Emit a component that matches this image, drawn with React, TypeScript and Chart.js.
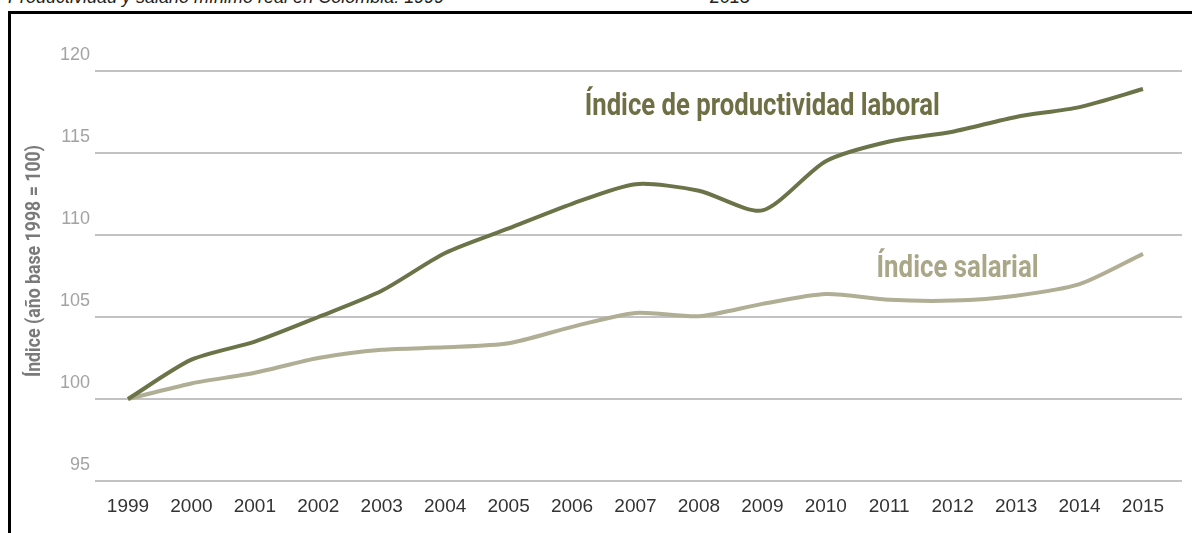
import React, { useEffect, useRef } from 'react';
import { Chart, registerables } from 'chart.js';

Chart.register(...registerables);

const years = [1999, 2000, 2001, 2002, 2003, 2004, 2005, 2006, 2007, 2008, 2009, 2010, 2011, 2012, 2013, 2014, 2015];
const productivity = [100, 102.4, 103.5, 105.0, 106.6, 108.9, 110.4, 111.9, 113.1, 112.7, 111.5, 114.5, 115.7, 116.3, 117.2, 117.8, 118.9];
const salary = [100, 100.95, 101.6, 102.5, 103.0, 103.15, 103.4, 104.4, 105.25, 105.05, 105.8, 106.4, 106.05, 106.0, 106.3, 107.0, 108.85];
const yTicks = [95, 100, 105, 110, 115, 120];
const seriesNames = ['Índice de productividad laboral', 'Índice salarial'];
const yTitle = 'Índice (año base 1998 = 100)';
const headTitle = 'Productividad y salario mínimo real en Colombia: 1999';
const headTitleEnd = '2015';

const PROD_COLOR = '#6b7348';
const SAL_COLOR = '#b0ae94';

const labelsPlugin = {
  id: 'seriesLabels',
  afterDatasetsDraw(chart: any) {
    const { ctx, scales } = chart;
    const xs = scales.x;
    const ys = scales.y;
    const items = [
      { text: seriesNames[0], xv: 2006.2, yv: 117.3, width: 355, color: '#6e6f45' },
      { text: seriesNames[1], xv: 2010.8, yv: 107.45, width: 162, color: '#a9a788' },
    ];
    ctx.save();
    ctx.font = 'bold 32px Roboto, "DejaVu Sans", sans-serif';
    ctx.textBaseline = 'alphabetic';
    ctx.textAlign = 'left';
    for (const it of items) {
      const w = ctx.measureText(it.text).width;
      const px = xs.getPixelForValue(it.xv);
      const py = ys.getPixelForValue(it.yv);
      ctx.save();
      ctx.translate(px, py);
      ctx.scale(it.width / w, 1);
      ctx.fillStyle = it.color;
      ctx.fillText(it.text, 0, 0);
      ctx.restore();
    }
    // y axis title
    ctx.save();
    ctx.font = 'bold 20px Roboto, "DejaVu Sans", sans-serif';
    const tw = ctx.measureText(yTitle).width;
    ctx.translate(35, 261);
    ctx.rotate(-Math.PI / 2);
    ctx.scale(232 / tw, 1);
    ctx.textAlign = 'center';
    ctx.textBaseline = 'middle';
    ctx.fillStyle = '#7a7a7a';
    ctx.fillText(yTitle, 0, 0);
    ctx.restore();
    ctx.restore();
  },
};

export default function App() {
  const canvasRef = useRef<HTMLCanvasElement | null>(null);

  useEffect(() => {
    const canvas = canvasRef.current;
    if (!canvas) return;
    const chart = new Chart(canvas, {
      type: 'line',
      data: {
        datasets: [
          {
            label: seriesNames[0],
            data: years.map((yr, i) => ({ x: yr, y: productivity[i] })),
            borderColor: PROD_COLOR,
            borderWidth: 4,
            pointRadius: 0,
            tension: 0.25,
            fill: false,
          },
          {
            label: seriesNames[1],
            data: years.map((yr, i) => ({ x: yr, y: salary[i] })),
            borderColor: SAL_COLOR,
            borderWidth: 4,
            pointRadius: 0,
            tension: 0.25,
            fill: false,
          },
        ],
      },
      options: {
        responsive: false,
        animation: false,
        devicePixelRatio: 1,
        layout: { padding: { left: 0, right: 10, top: 71, bottom: 0 } },
        plugins: {
          legend: { display: false },
          tooltip: { enabled: false },
        },
        scales: {
          x: {
            type: 'linear',
            min: 1998.48,
            max: 2015.615,
            afterBuildTicks: (s: any) => {
              s.ticks = years.map((v) => ({ value: v }));
            },
            afterFit: (s: any) => {
              s.height = 52;
            },
            grid: { display: false, drawTicks: false },
            border: { display: false },
            ticks: {
              color: '#333333',
              font: { family: '"Liberation Sans", Arial, sans-serif', size: 19 },
              padding: 14,
              maxRotation: 0,
              autoSkip: false,
              callback: (v: any) => String(v),
            },
          },
          y: {
            min: 95,
            max: 120,
            afterBuildTicks: (s: any) => {
              s.ticks = yTicks.map((v) => ({ value: v }));
            },
            afterFit: (s: any) => {
              s.width = 95;
            },
            grid: { color: '#c2c2c2', lineWidth: 2, drawTicks: false },
            border: { display: false },
            ticks: {
              color: '#a3a3a3',
              font: { family: '"Liberation Sans", Arial, sans-serif', size: 18 },
              padding: 5,
              labelOffset: -16,
              callback: (v: any) => String(v),
            },
          },
        },
      },
      plugins: [labelsPlugin],
    });
    return () => chart.destroy();
  }, []);

  return (
    <div
      style={{
        position: 'absolute',
        left: 0,
        top: 0,
        width: 1192,
        height: 533,
        overflow: 'hidden',
        background: '#ffffff',
      }}
    >
      <div
        style={{
          position: 'absolute',
          left: 8,
          top: -12,
          fontFamily: '"Liberation Sans", Arial, sans-serif',
          fontStyle: 'italic',
          fontSize: 18,
          lineHeight: '18px',
          color: '#222',
          whiteSpace: 'nowrap',
        }}
      >
        {headTitle}
      </div>
      <div
        style={{
          position: 'absolute',
          left: 710,
          top: -12,
          fontFamily: '"Liberation Sans", Arial, sans-serif',
          fontStyle: 'italic',
          fontSize: 18,
          lineHeight: '18px',
          color: '#222',
          whiteSpace: 'nowrap',
        }}
      >
        {headTitleEnd}
      </div>
      <div
        style={{
          position: 'absolute',
          left: 8,
          top: 11,
          width: 1200,
          height: 540,
          borderLeft: '3px solid #000',
          borderTop: '3px solid #000',
        }}
      />
      <canvas
        ref={canvasRef}
        width={1192}
        height={533}
        style={{ position: 'absolute', left: 0, top: 0, width: 1192, height: 533, display: 'block' }}
      />
    </div>
  );
}
